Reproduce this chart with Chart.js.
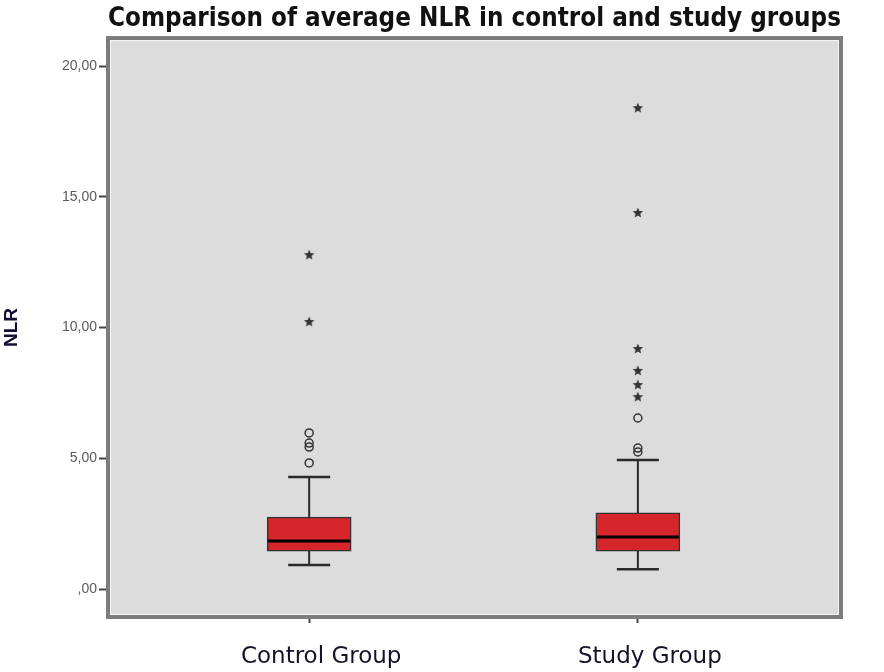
<!DOCTYPE html>
<html>
<head>
<meta charset="utf-8">
<script src="https://cdn.jsdelivr.net/npm/chart.js@4.4.1/dist/chart.umd.min.js"></script>
<style>
  html, body { margin: 0; padding: 0; background: #ffffff; }
  #wrap { width: 884px; height: 672px; }
</style>
</head>
<body>
<div id="wrap"><canvas id="nlr-chart" width="884" height="672"></canvas></div>
<script>
// Groups and their positions on the x axis
var groups = ['Control Group', 'Study Group'];
var groupPos = [1, 2];

// Box plot statistics
var q1 = [1.45, 1.45];
var q3 = [2.75, 2.91];
var medians = [1.84, 1.99];
var whiskerLow = [0.92, 0.76];
var whiskerHigh = [4.28, 4.93];

// Outliers (circles) and extremes (stars)
var controlCircles = [4.82, 5.43, 5.58, 5.97];
var controlStars = [10.21, 12.77];
var studyCircles = [5.24, 5.39, 6.54];
var studyStars = [7.34, 7.80, 8.34, 9.18, 14.38, 18.39];

// Y axis ticks
var yTickValues = [0, 5, 10, 15, 20];
var yTickLabels = [',00', '5,00', '10,00', '15,00', '20,00'];

// Small filled star used as point style for the extremes
function makeStar() {
    var c = document.createElement('canvas');
    c.width = 12;
    c.height = 12;
    var g = c.getContext('2d');
    g.fillStyle = '#333333';
    g.beginPath();
    for (var i = 0; i < 10; i++) {
        var r = (i % 2 === 0) ? 5.5 : 2.4;
        var a = -Math.PI / 2 + i * Math.PI / 5;
        var px = 6 + r * Math.cos(a);
        var py = 6 + r * Math.sin(a);
        if (i === 0) g.moveTo(px, py); else g.lineTo(px, py);
    }
    g.closePath();
    g.fill();
    return c;
}
var starImg = makeStar();

function points(x, values) {
    return values.map(function (v) { return { x: x, y: v }; });
}

// Grey plot background + frame
var framePlugin = {
    id: 'frame',
    beforeDraw: function (chart) {
        var a = chart.chartArea;
        var ctx = chart.ctx;
        ctx.save();
        ctx.fillStyle = '#dcdcdc';
        ctx.fillRect(a.left, a.top, a.right - a.left, a.bottom - a.top);
        ctx.restore();
    },
    afterDraw: function (chart) {
        var a = chart.chartArea;
        var ctx = chart.ctx;
        ctx.save();
        ctx.strokeStyle = '#7c7c7c';
        ctx.lineWidth = 4;
        ctx.strokeRect(a.left, a.top, a.right - a.left, a.bottom - a.top);
        ctx.strokeStyle = '#f4f4f4';
        ctx.lineWidth = 1;
        ctx.strokeRect(a.left + 2.5, a.top + 2.5, a.right - a.left - 5, a.bottom - a.top - 5);
        ctx.restore();
    }
};

// Whiskers, caps and medians drawn through the chart scales
var boxPlugin = {
    id: 'boxParts',
    beforeDatasetsDraw: function (chart) {
        var ctx = chart.ctx;
        var xs = chart.scales.x, ys = chart.scales.y;
        ctx.save();
        ctx.strokeStyle = '#2a2a2a';
        for (var i = 0; i < groups.length; i++) {
            var cx = xs.getPixelForValue(groupPos[i]);
            var half = 21;
            ctx.lineWidth = 2;
            ctx.beginPath();
            ctx.moveTo(cx, ys.getPixelForValue(whiskerLow[i]));
            ctx.lineTo(cx, ys.getPixelForValue(q1[i]));
            ctx.moveTo(cx, ys.getPixelForValue(q3[i]));
            ctx.lineTo(cx, ys.getPixelForValue(whiskerHigh[i]));
            ctx.stroke();
            ctx.lineWidth = 2.5;
            ctx.beginPath();
            ctx.moveTo(cx - half, ys.getPixelForValue(whiskerLow[i]));
            ctx.lineTo(cx + half, ys.getPixelForValue(whiskerLow[i]));
            ctx.moveTo(cx - half, ys.getPixelForValue(whiskerHigh[i]));
            ctx.lineTo(cx + half, ys.getPixelForValue(whiskerHigh[i]));
            ctx.stroke();
        }
        ctx.restore();
    },
    afterDatasetsDraw: function (chart) {
        var ctx = chart.ctx;
        var xs = chart.scales.x, ys = chart.scales.y;
        ctx.save();
        ctx.strokeStyle = '#000000';
        ctx.lineWidth = 3;
        for (var i = 0; i < groups.length; i++) {
            var cx = xs.getPixelForValue(groupPos[i]);
            var my = ys.getPixelForValue(medians[i]);
            ctx.beginPath();
            ctx.moveTo(cx - 41, my);
            ctx.lineTo(cx + 41, my);
            ctx.stroke();
        }
        ctx.restore();
    }
};

var ctx = document.getElementById('nlr-chart').getContext('2d');
window.nlrChart = new Chart(ctx, {
    type: 'bar',
    data: {
        datasets: [
            {
                type: 'bar',
                label: 'IQR',
                data: groupPos.map(function (x, i) { return { x: x, y: [q1[i], q3[i]] }; }),
                backgroundColor: 'rgb(214, 38, 44)',
                borderColor: '#333333',
                borderWidth: 1.5,
                borderSkipped: false,
                barThickness: 84,
                order: 2
            },
            {
                type: 'scatter',
                label: 'Control outliers',
                data: points(1, controlCircles),
                pointStyle: 'circle',
                pointRadius: 4,
                backgroundColor: 'rgba(0,0,0,0)',
                borderColor: '#333333',
                borderWidth: 1.5,
                order: 1
            },
            {
                type: 'scatter',
                label: 'Study outliers',
                data: points(2, studyCircles),
                pointStyle: 'circle',
                pointRadius: 4,
                backgroundColor: 'rgba(0,0,0,0)',
                borderColor: '#333333',
                borderWidth: 1.5,
                order: 1
            },
            {
                type: 'scatter',
                label: 'Control extremes',
                data: points(1, controlStars),
                pointStyle: starImg,
                order: 1
            },
            {
                type: 'scatter',
                label: 'Study extremes',
                data: points(2, studyStars),
                pointStyle: starImg,
                order: 1
            }
        ]
    },
    options: {
        responsive: false,
        animation: false,
        layout: { padding: { left: 0, right: 43, top: 0, bottom: 0 } },
        plugins: {
            legend: { display: false },
            tooltip: { enabled: false },
            title: {
                display: true,
                text: 'Comparison of average NLR in control and study groups',
                fullSize: false,
                align: 'start',
                color: '#111111',
                font: { family: '"DejaVu Sans", sans-serif', size: 27, weight: 'bold', lineHeight: 1.15 },
                padding: { top: 3, bottom: 4 }
            }
        },
        scales: {
            x: {
                type: 'linear',
                offset: false,
                min: 0.388,
                max: 2.618,
                afterBuildTicks: function (scale) {
                    scale.ticks = groupPos.map(function (v) { return { value: v }; });
                },
                afterFit: function (scale) { scale.height = 55; },
                border: { display: false },
                grid: { offset: false, drawOnChartArea: false, drawTicks: true, tickLength: 6, tickColor: '#444444', tickWidth: 2 },
                ticks: {
                    autoSkip: false,
                    maxRotation: 0,
                    padding: 20,
                    labelOffset: 12,
                    color: '#141428',
                    font: { family: '"DejaVu Sans", sans-serif', size: 23 },
                    callback: function (v) {
                        var i = groupPos.indexOf(v);
                        return i >= 0 ? groups[i] : '';
                    }
                }
            },
            y: {
                min: -1.07,
                max: 21.07,
                afterBuildTicks: function (scale) {
                    scale.ticks = yTickValues.map(function (v) { return { value: v }; });
                },
                afterFit: function (scale) { scale.width = 108; },
                border: { display: false },
                grid: { drawOnChartArea: false, drawTicks: true, tickLength: 9, tickColor: '#444444', tickWidth: 2 },
                ticks: {
                    padding: 2,
                    color: '#5a5a5a',
                    font: { family: '"Liberation Sans", Arial, sans-serif', size: 14 },
                    callback: function (v) {
                        var i = yTickValues.indexOf(v);
                        return i >= 0 ? yTickLabels[i] : '';
                    }
                },
                title: {
                    display: true,
                    text: 'NLR',
                    color: '#101030',
                    font: { family: '"Liberation Sans", Arial, sans-serif', size: 19, weight: 'bold' },
                    padding: { top: 0, bottom: 0 }
                }
            }
        }
    },
    plugins: [framePlugin, boxPlugin]
});
</script>
</body>
</html>
